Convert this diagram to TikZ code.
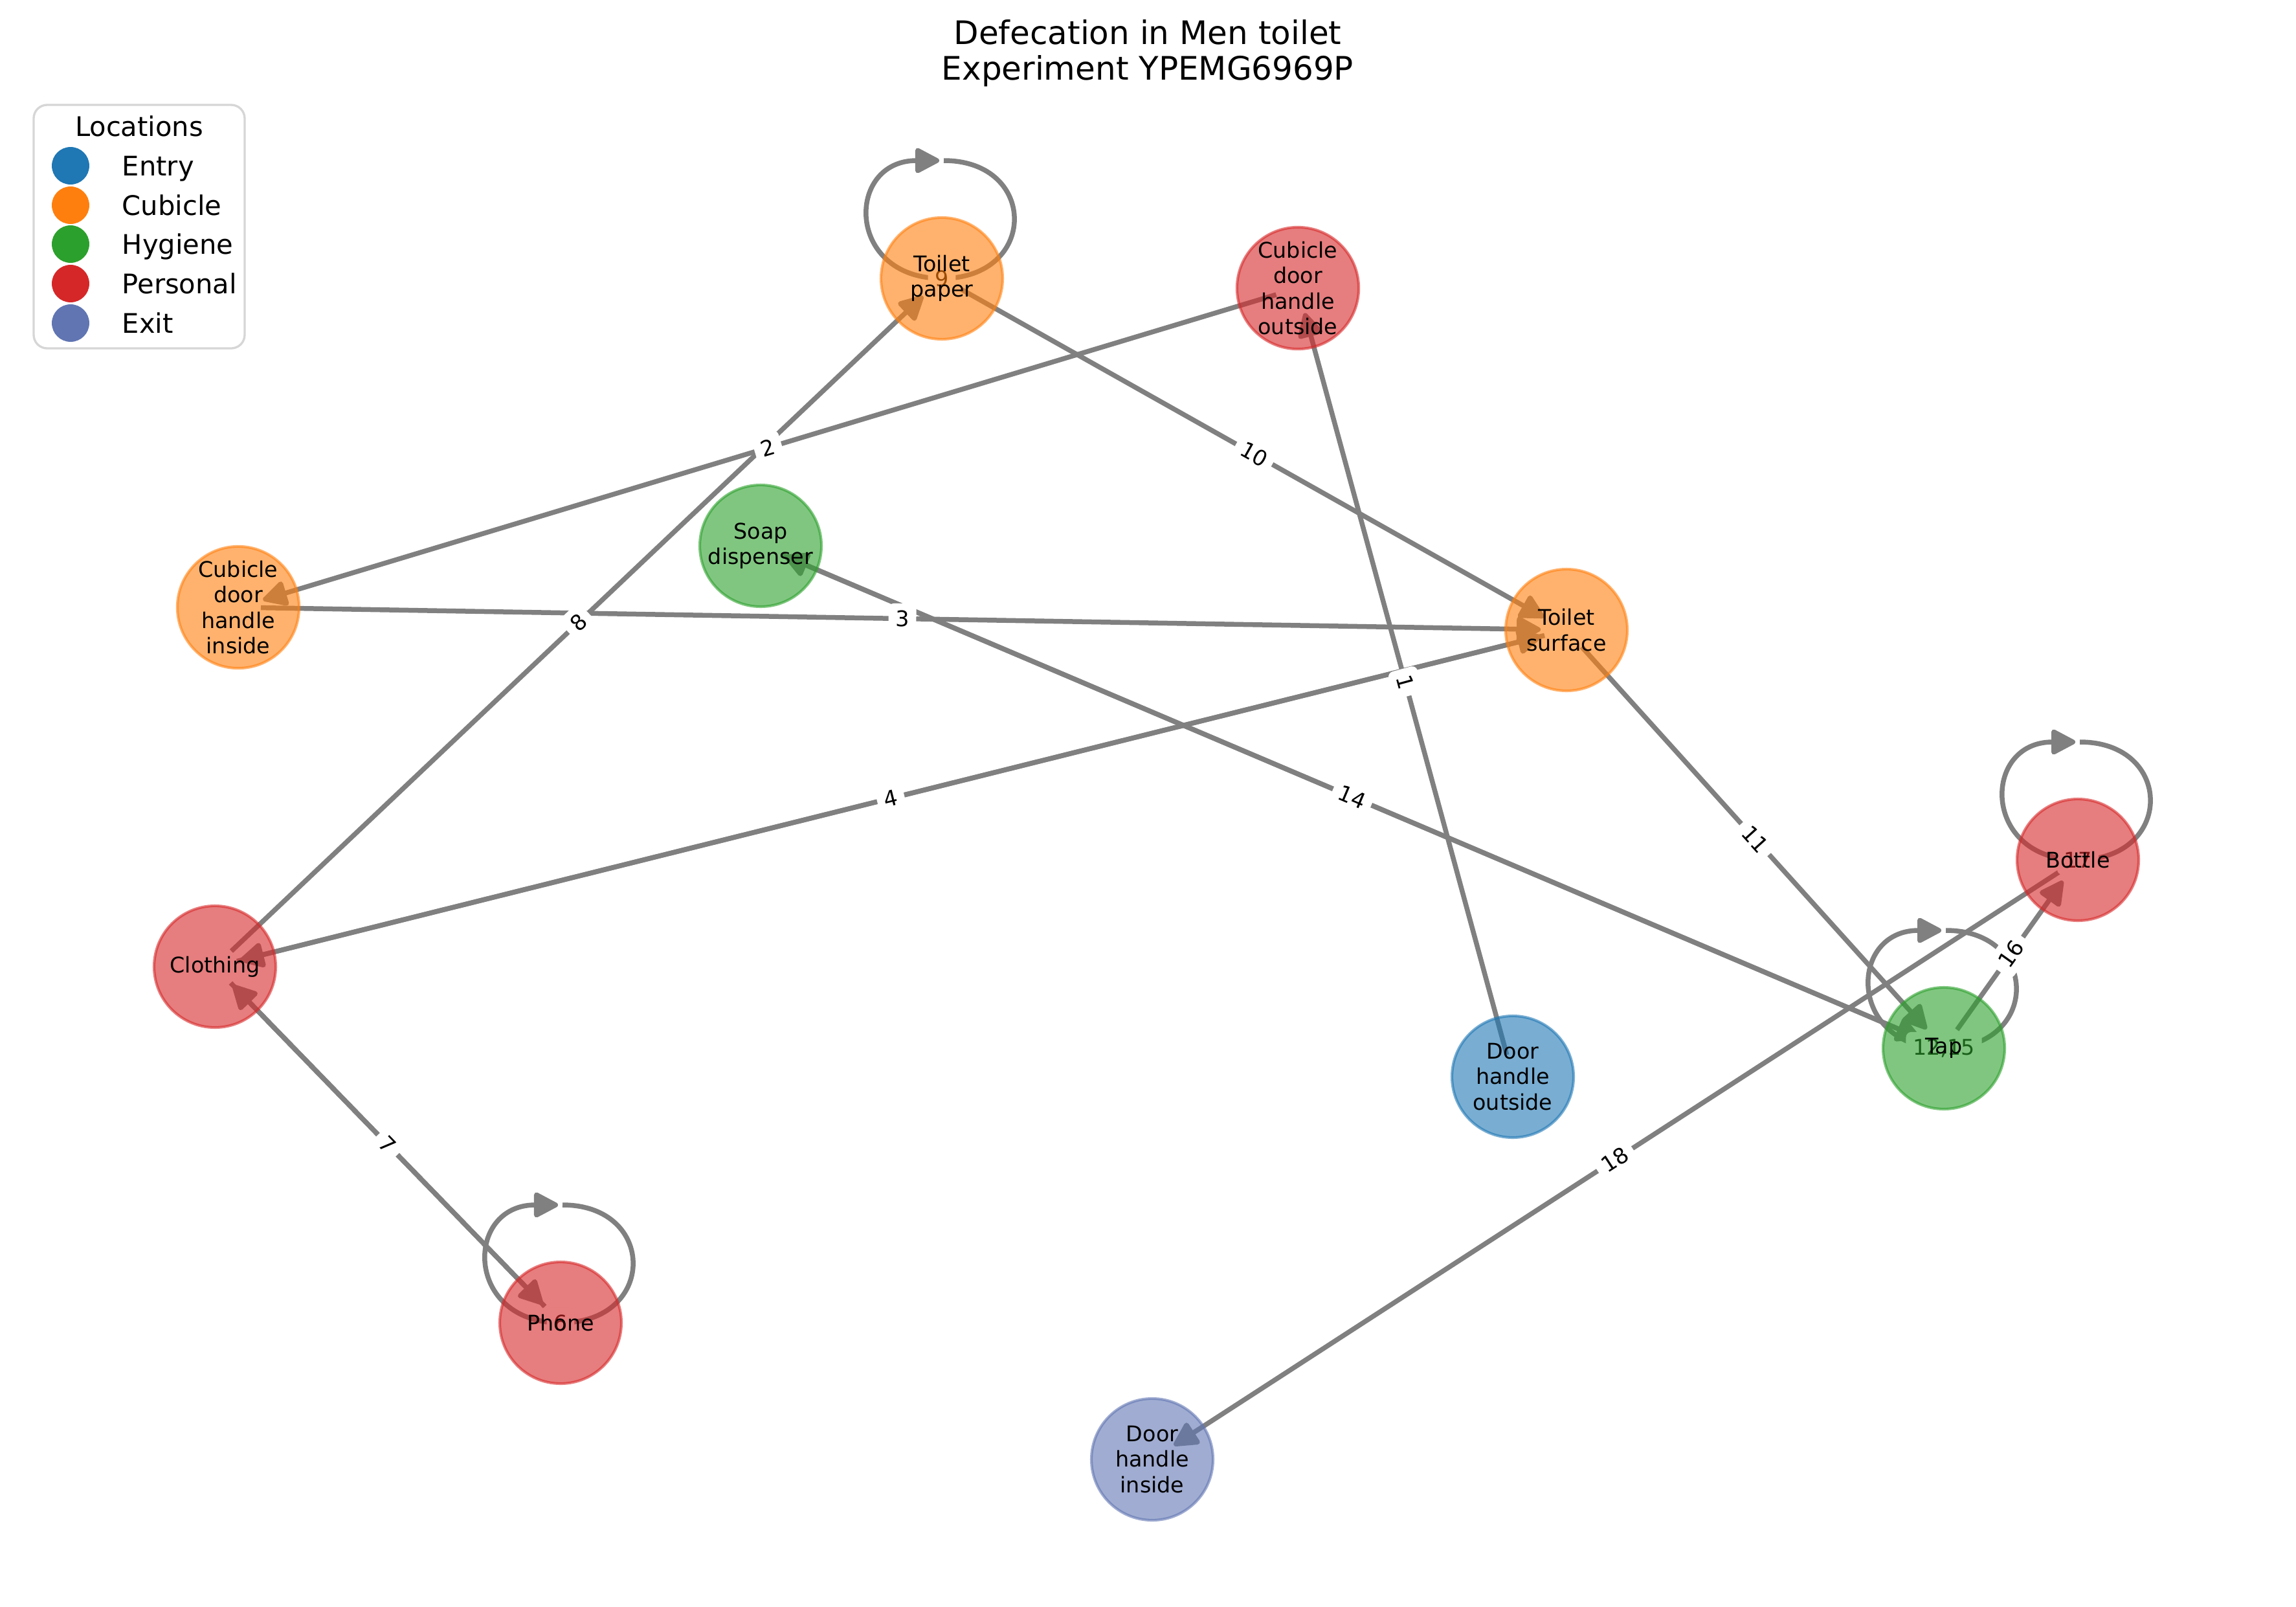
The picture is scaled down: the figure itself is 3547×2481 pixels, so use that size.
\documentclass[tikz,border=0pt]{standalone}
\usepackage{fontspec}
\setmainfont{DejaVu Sans}
\usetikzlibrary{arrows.meta}
\pgfdeclarelayer{edgelayer}
\pgfsetlayers{edgelayer,main}

\definecolor{entryc}{RGB}{31,119,180}
\definecolor{cubiclec}{RGB}{255,127,14}
\definecolor{hygienec}{RGB}{44,160,44}
\definecolor{personalc}{RGB}{214,39,40}
\definecolor{exitc}{RGB}{96,117,178}
\definecolor{edgegray}{RGB}{128,128,128}
\definecolor{framegray}{RGB}{214,214,214}

% self-loop above a node, ending with an arrow at its top
\newcommand\selfloopat[1]{%
  \draw[loopline] ([shift={(3,-182)}]#1.center)
    .. controls ([shift={(149,-182)}]#1.center) and ([shift={(149,0)}]#1.center) .. (#1.center)
    .. controls ([shift={(-149,0)}]#1.center) and ([shift={(-149,-182)}]#1.center) .. ([shift={(-4,-182)}]#1.center);}

\begin{document}
\begin{tikzpicture}[x=0.24pt,y=-0.24pt,
  loc/.style={circle, minimum size=45.1pt, inner sep=0pt, fill=#1, draw=#1,
    fill opacity=0.6, draw opacity=0.6, line width=1pt, text opacity=1,
    align=center, font=\fontsize{8}{9.4}\selectfont},
  tipstyle/.style={-{Triangle[length=10pt,width=10pt,round]}},
  link/.style={draw=edgegray, line width=1.8pt, tipstyle, shorten <=8.4pt, shorten >=9.6pt},
  loopline/.style={draw=edgegray, line width=1.8pt, tipstyle},
  elabel/.style={fill=white, rounded corners=2pt, inner sep=2.6pt, text=black,
    font=\fontsize{8}{9.6}\selectfont},
  legdot/.style={circle, fill=#1, minimum size=13.9pt, inner sep=0pt},
  legtext/.style={anchor=base west, inner sep=0pt, font=\fontsize{10}{12}\selectfont},
]
\useasboundingbox (0,0) rectangle (3547,2481);

% title
\node[anchor=base, font=\fontsize{12}{14}\selectfont] (titleA) at (1773,68) {Defecation in Men toilet};
\node[anchor=base, font=\fontsize{12}{14}\selectfont] (titleB) at (1773,123) {Experiment YPEMG6969P};

% legend
\draw[framegray, line width=0.8pt, fill=white, rounded corners=5pt] (52,162) rectangle (378,538);
\node[font=\fontsize{10}{12}\selectfont] (legtitle) at (215,195) {Locations};
\node[legdot=entryc] (legA) at (109,256) {};
\node[legdot=cubiclec] (legB) at (109,317) {};
\node[legdot=hygienec] (legC) at (109,377) {};
\node[legdot=personalc] (legD) at (109,438) {};
\node[legdot=exitc] (legE) at (109,499) {};
\node[legtext] (legAt) at (188,271) {Entry};
\node[legtext] (legBt) at (188,332) {Cubicle};
\node[legtext] (legCt) at (188,392) {Hygiene};
\node[legtext] (legDt) at (188,453) {Personal};
\node[legtext] (legEt) at (188,514) {Exit};

% locations
\node[loc=entryc] (dho) at (2337,1663) {Door\\handle\\outside};
\node[loc=personalc] (cdho) at (2005,445) {Cubicle\\door\\handle\\outside};
\node[loc=cubiclec] (cdhi) at (368,938) {Cubicle\\door\\handle\\inside};
\node[loc=cubiclec] (ts) at (2420,973) {Toilet\\surface};
\node[loc=cubiclec] (tp) at (1455,430) {Toilet\\paper};
\node[loc=hygienec] (soap) at (1175,843) {Soap\\dispenser};
\node[loc=personalc] (clo) at (332,1493) {Clothing};
\node[loc=personalc] (ph) at (866,2043) {Phone};
\node[loc=hygienec] (tap) at (3003,1619) {Tap};
\node[loc=personalc] (bot) at (3210,1328) {Bottle};
\node[loc=exitc] (dhi) at (1780,2254) {Door\\handle\\inside};

\begin{pgfonlayer}{edgelayer}
  % transitions
  \draw[link] (dho.center) -- (cdho.center);
  \draw[link] (cdho.center) -- (cdhi.center);
  \draw[link] (cdhi.center) -- (ts.center);
  \draw[link] (ts.center) -- (clo.center);
  \draw[link] (clo.center) -- (ts.center);
  \draw[link] (clo.center) -- (ph.center);
  \draw[link] (ph.center) -- (clo.center);
  \draw[link] (clo.center) -- (tp.center);
  \draw[link] (tp.center) -- (ts.center);
  \draw[link] (ts.center) -- (tap.center);
  \draw[link] (tap.center) -- (soap.center);
  \draw[link] (soap.center) -- (tap.center);
  \draw[link] (tap.center) -- (bot.center);
  \draw[link] (bot.center) -- (dhi.center);
  \selfloopat{tp}
  \selfloopat{ph}
  \selfloopat{tap}
  \selfloopat{bot}

  % step numbers
  \path (dho.center) -- (cdho.center) node[elabel, sloped, midway] (l1) {1};
  \path (cdho.center) -- (cdhi.center) node[elabel, sloped, midway] (l2) {2};
  \path (cdhi.center) -- (ts.center) node[elabel, sloped, midway] (l3) {3};
  \path (ts.center) -- (clo.center) node[elabel, sloped, midway] (l4) {4};
  \path (clo.center) -- (ph.center) node[elabel, sloped, midway] (l7) {7};
  \path (clo.center) -- (tp.center) node[elabel, sloped, midway] (l8) {8};
  \path (tp.center) -- (ts.center) node[elabel, sloped, midway] (l10) {10};
  \path (ts.center) -- (tap.center) node[elabel, sloped, midway] (l11) {11};
  \path (soap.center) -- (tap.center) node[elabel, sloped, midway] (l14) {14};
  \path (tap.center) -- (bot.center) node[elabel, sloped, midway] (l16) {16};
  \path (bot.center) -- (dhi.center) node[elabel, sloped, midway] (l18) {18};
  \node[elabel] (l9) at (tp.center) {9};
  \node[elabel] (l6) at (ph.center) {6};
  \node[elabel] (l12) at (tap.center) {12,15};
  \node[elabel] (l17) at (bot.center) {17};
\end{pgfonlayer}
\end{tikzpicture}
\end{document}
